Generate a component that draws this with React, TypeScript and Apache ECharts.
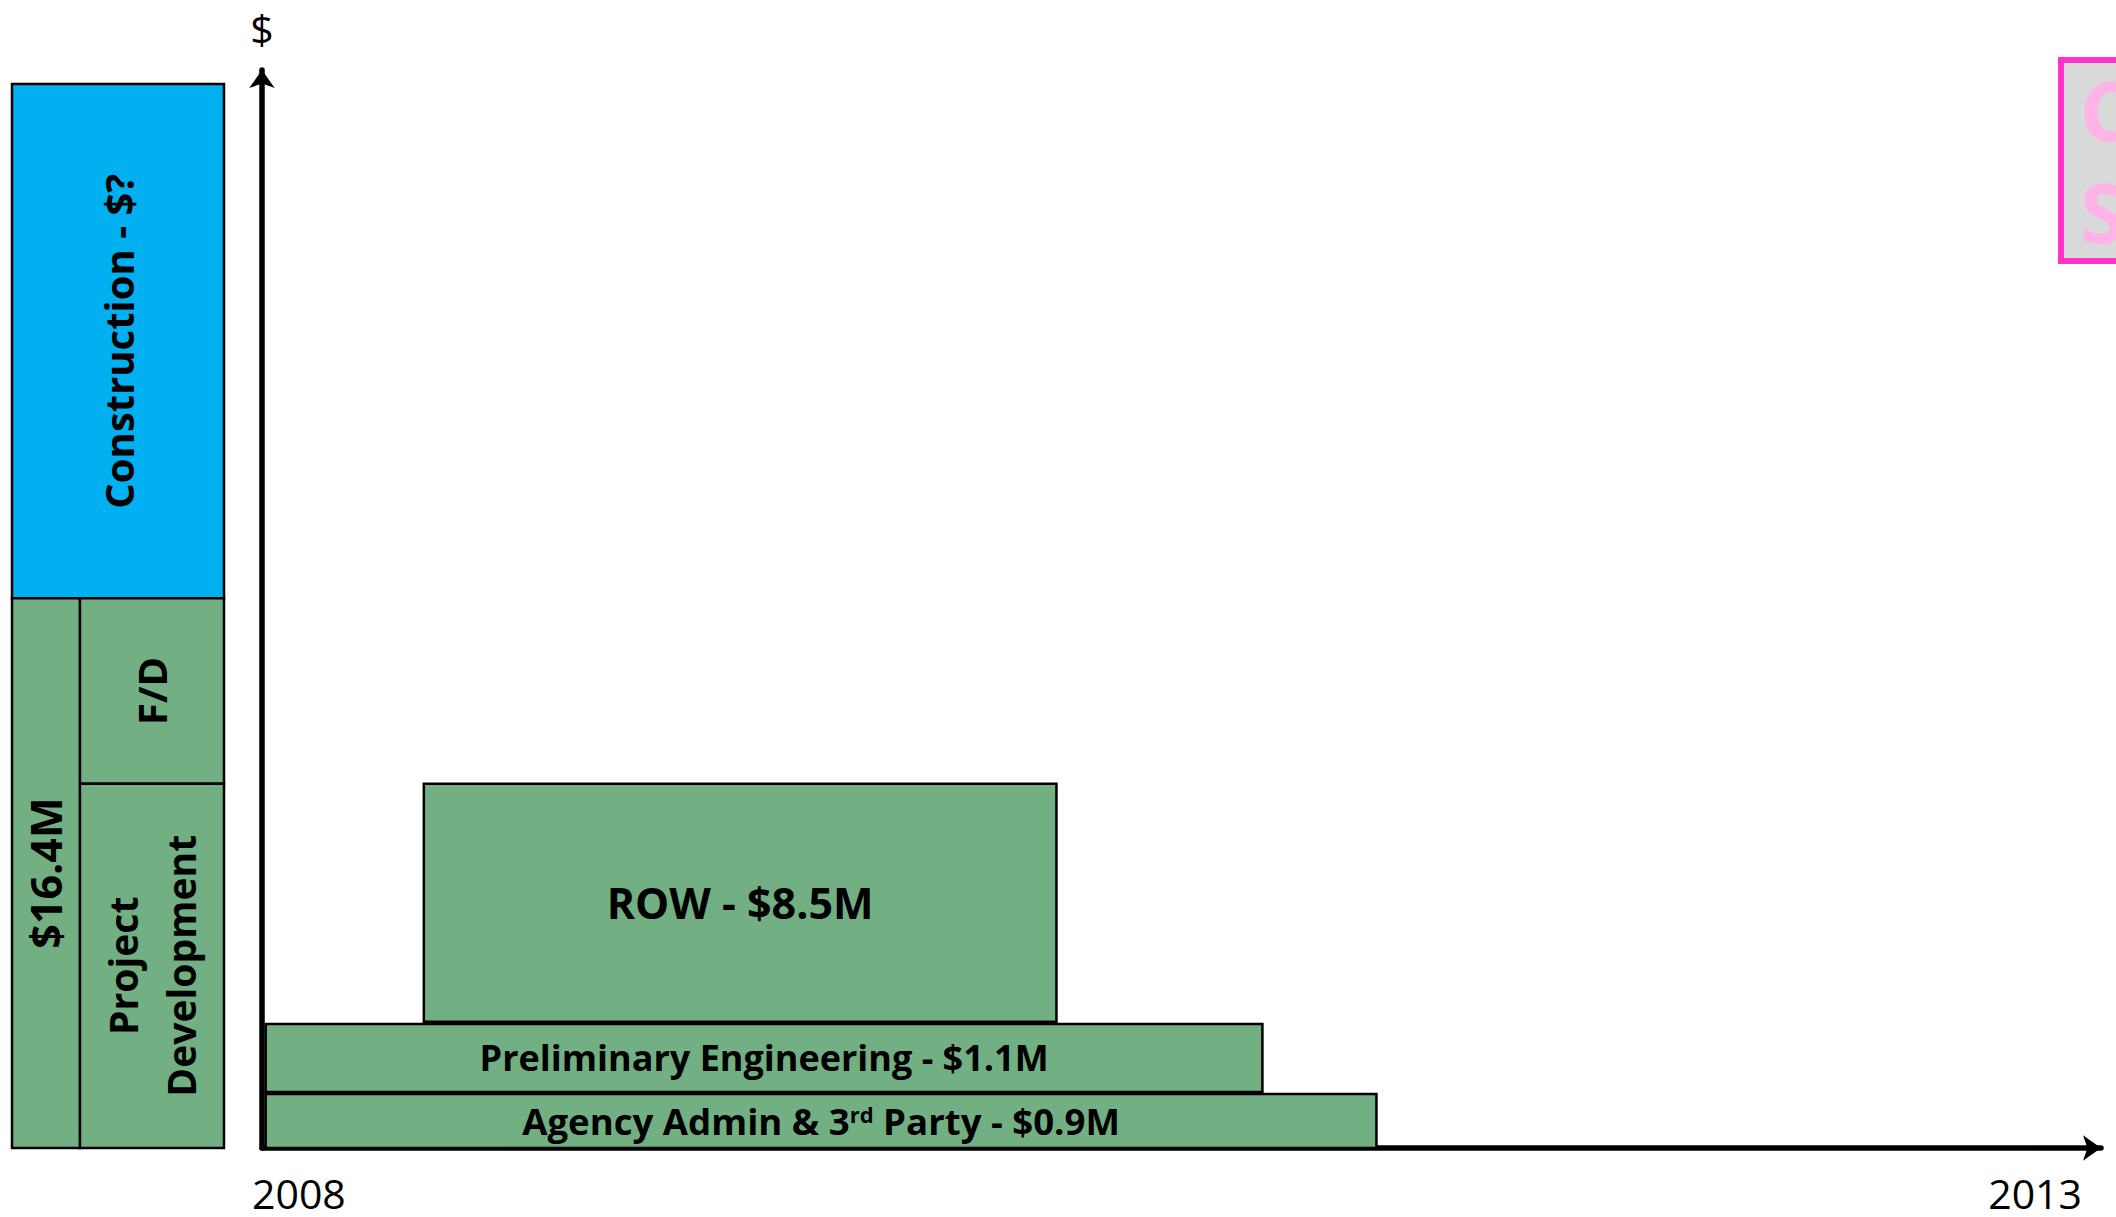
import React, { useEffect, useRef } from "react";
import * as echarts from "echarts";

// ---- Timeline (right chart) data ----
const taskNames = [
  "Agency Admin & 3rd Party - $0.9M",
  "Preliminary Engineering - $1.1M",
  "ROW - $8.5M",
];
const taskStartYear = [2008.01, 2008.01, 2008.44];
const taskEndYear = [2011.03, 2010.72, 2010.16];
const taskBottom = [0, 5.2, 11.7];
const taskTop = [5.0, 11.5, 33.8];

// ---- Budget stack (left block) data ----
const blockNames = ["Construction - $?", "F/D", "Project\nDevelopment", "$16.4M"];
const blockLeft = [0, 0.32, 0.32, 0];
const blockRight = [1, 1, 1, 0.32];
const blockBottom = [51.0, 33.8, 0, 0];
const blockTop = [98.7, 51.0, 33.8, 51.0];

// ---- Axis ----
const xTickLabels = ["2008", "2013"];
const xMin = 2008;
const xMax = 2013;
const yAxisName = "$";

const GREEN = "#72B083";
const BLUE = "#00B0F0";
const FONT = "Open Sans";

export default function App() {
  const ref = useRef<HTMLDivElement>(null);

  useEffect(() => {
    if (!ref.current) return;
    const chart = echarts.init(ref.current, null, { renderer: "svg" });

    const taskData = taskNames.map((n, i) => ({
      name: n,
      value: [taskStartYear[i], taskEndYear[i], taskBottom[i], taskTop[i]],
    }));
    const blockData = blockNames.map((n, i) => ({
      name: n,
      value: [blockLeft[i], blockRight[i], blockBottom[i], blockTop[i]],
    }));
    const blockFill = [BLUE, GREEN, GREEN, GREEN];
    const taskFont = [36.6, 36, 43];
    const blockFont = [40, 40, 39, 43];

    const option: any = {
      animation: false,
      backgroundColor: "#ffffff",
      grid: [
        { left: 262, right: 15, top: 70, bottom: 69 },
        { left: 12, width: 212, top: 70, bottom: 69 },
      ],
      xAxis: [
        {
          type: "value",
          gridIndex: 0,
          min: xMin,
          max: xMax,
          interval: xMax - xMin,
          splitLine: { show: false },
          axisTick: { show: false },
          axisLine: {
            show: true,
            onZero: false,
            symbol: ["none", "arrow"],
            symbolSize: [19, 18],
            lineStyle: { color: "#000", width: 5.5 },
          },
          axisLabel: {
            show: true,
            margin: 24,
            fontFamily: FONT,
            fontSize: 41,
            color: "#000",
            alignMinLabel: "left",
            alignMaxLabel: "right",
            padding: [0, 19, 0, -10],
            formatter: (v: number) => (v === xMin ? xTickLabels[0] : v === xMax ? xTickLabels[1] : ""),
          },
        },
        {
          type: "value",
          gridIndex: 1,
          min: 0,
          max: 1,
          show: false,
        },
      ],
      yAxis: [
        {
          type: "value",
          gridIndex: 0,
          min: 0,
          max: 100,
          name: yAxisName,
          nameLocation: "end",
          nameGap: 22,
          nameTextStyle: { fontFamily: FONT, fontSize: 41, color: "#000" },
          splitLine: { show: false },
          axisTick: { show: false },
          axisLabel: { show: false },
          axisLine: {
            show: true,
            onZero: false,
            symbol: ["none", "arrow"],
            symbolSize: [19, 18],
            lineStyle: { color: "#000", width: 5.5 },
          },
        },
        {
          type: "value",
          gridIndex: 1,
          min: 0,
          max: 100,
          show: false,
        },
      ],
      series: [
        {
          type: "custom",
          xAxisIndex: 0,
          yAxisIndex: 0,
          z: 1,
          encode: { x: [0, 1], y: [2, 3] },
          data: taskData,
          renderItem: (params: any, api: any) => {
            const i = params.dataIndex;
            const p0 = api.coord([api.value(0), api.value(3)]);
            const p1 = api.coord([api.value(1), api.value(2)]);
            const name = taskNames[i];
            const text = name.replace("3rd", "3{sup|rd}");
            return {
              type: "rect",
              shape: { x: p0[0], y: p0[1], width: p1[0] - p0[0], height: p1[1] - p0[1] },
              style: { fill: GREEN, stroke: "#000", lineWidth: 2.5 },
              textContent: {
                style: {
                  text,
                  fontFamily: FONT,
                  fontWeight: "bold",
                  fontSize: taskFont[i],
                  fill: "#000",
                  rich: {
                    sup: {
                      fontFamily: FONT,
                      fontWeight: "bold",
                      fontSize: 22,
                      verticalAlign: "top",
                      lineHeight: 26,
                    },
                  },
                },
              },
              textConfig: { position: "inside" },
            };
          },
        },
        {
          type: "custom",
          xAxisIndex: 1,
          yAxisIndex: 1,
          encode: { x: [0, 1], y: [2, 3] },
          data: blockData,
          renderItem: (params: any, api: any) => {
            const i = params.dataIndex;
            const p0 = api.coord([api.value(0), api.value(3)]);
            const p1 = api.coord([api.value(1), api.value(2)]);
            return {
              type: "rect",
              shape: { x: p0[0], y: p0[1], width: p1[0] - p0[0], height: p1[1] - p0[1] },
              style: { fill: blockFill[i], stroke: "#000", lineWidth: 2.5 },
              textContent: {
                style: {
                  text: blockNames[i],
                  fontFamily: FONT,
                  fontWeight: "bold",
                  fontSize: blockFont[i],
                  lineHeight: 58,
                  align: "center",
                  fill: "#000",
                },
              },
              textConfig: { position: "inside", rotation: Math.PI / 2 },
            };
          },
        },
      ],
      graphic: [
        {
          type: "rect",
          left: 2058,
          top: 57,
          shape: { x: 0, y: 0, width: 120, height: 201 },
          style: { fill: "#D9D9D9", stroke: "#FF33CC", lineWidth: 6 },
        },
        {
          type: "text",
          x: 2080,
          y: 109,
          style: {
            text: "C",
            fontFamily: FONT,
            fontWeight: "bold",
            fontSize: 82,
            fill: "#FFB3E6",
            verticalAlign: "middle",
          },
        },
        {
          type: "text",
          x: 2080,
          y: 211,
          style: {
            text: "S",
            fontFamily: FONT,
            fontWeight: "bold",
            fontSize: 82,
            fill: "#FFB3E6",
            verticalAlign: "middle",
          },
        },
      ],
    };

    chart.setOption(option);
    return () => chart.dispose();
  }, []);

  return (
    <div
      ref={ref}
      style={{ position: "fixed", left: 0, top: 0, width: 2116, height: 1217, background: "#fff" }}
    />
  );
}
